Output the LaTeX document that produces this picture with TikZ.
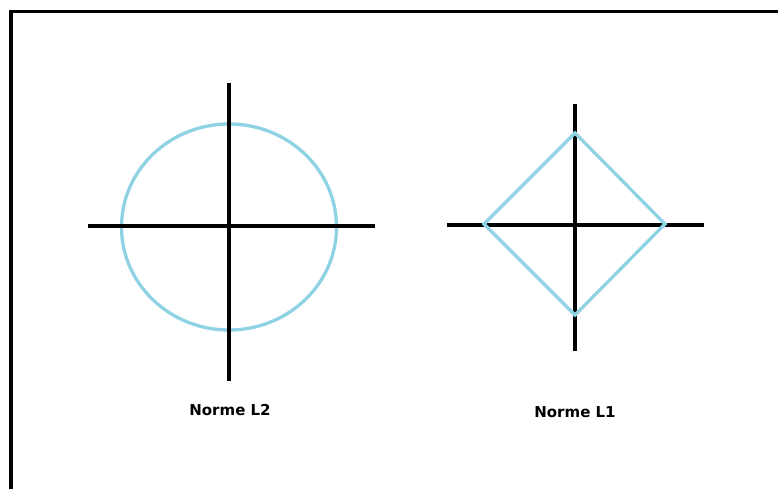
\documentclass[tikz,border=0pt]{standalone}
\usepackage{fontspec}
\setsansfont{DejaVu Sans}
\usetikzlibrary{positioning}
\definecolor{normblue}{RGB}{143,210,228}
\tikzset{
    axis/.style={draw=black, line width=3.3pt},
    unitball/.style={draw=normblue, line width=3.3pt},
    normlabel/.style={font=\sffamily\bfseries\fontsize{15}{17}\selectfont}
}

\begin{document}
\begin{tikzpicture}[x=1pt, y=-1pt]
        \useasboundingbox (0,0) rectangle (778,489);

        % Frame
        \draw [line width=3.3pt] (11,489) -- (11,11.5) -- (778,11.5);

        % Left picture: L2 ball
        \coordinate (c2) at (229,227);
        \draw [unitball] (c2) ellipse [x radius=107.5, y radius=103];
        \draw [axis] (88,226) -- (375,226);
        \draw [axis] (229,83) -- (229,381);
        \node (labelL2) [normlabel] at (230,410) {Norme L2};

        % Right picture: L1 ball
        \coordinate (c1) at (575,224);
        \draw [axis] (447,225) -- (704,225);
        \draw [axis] (575,104) -- (575,351);
        \draw [unitball, line join=miter] (484,224) -- (575,133) -- (665,224) -- (575,315) -- cycle;
        \node (labelL1) [normlabel] at (575,412) {Norme L1};

\end{tikzpicture}
\end{document}
